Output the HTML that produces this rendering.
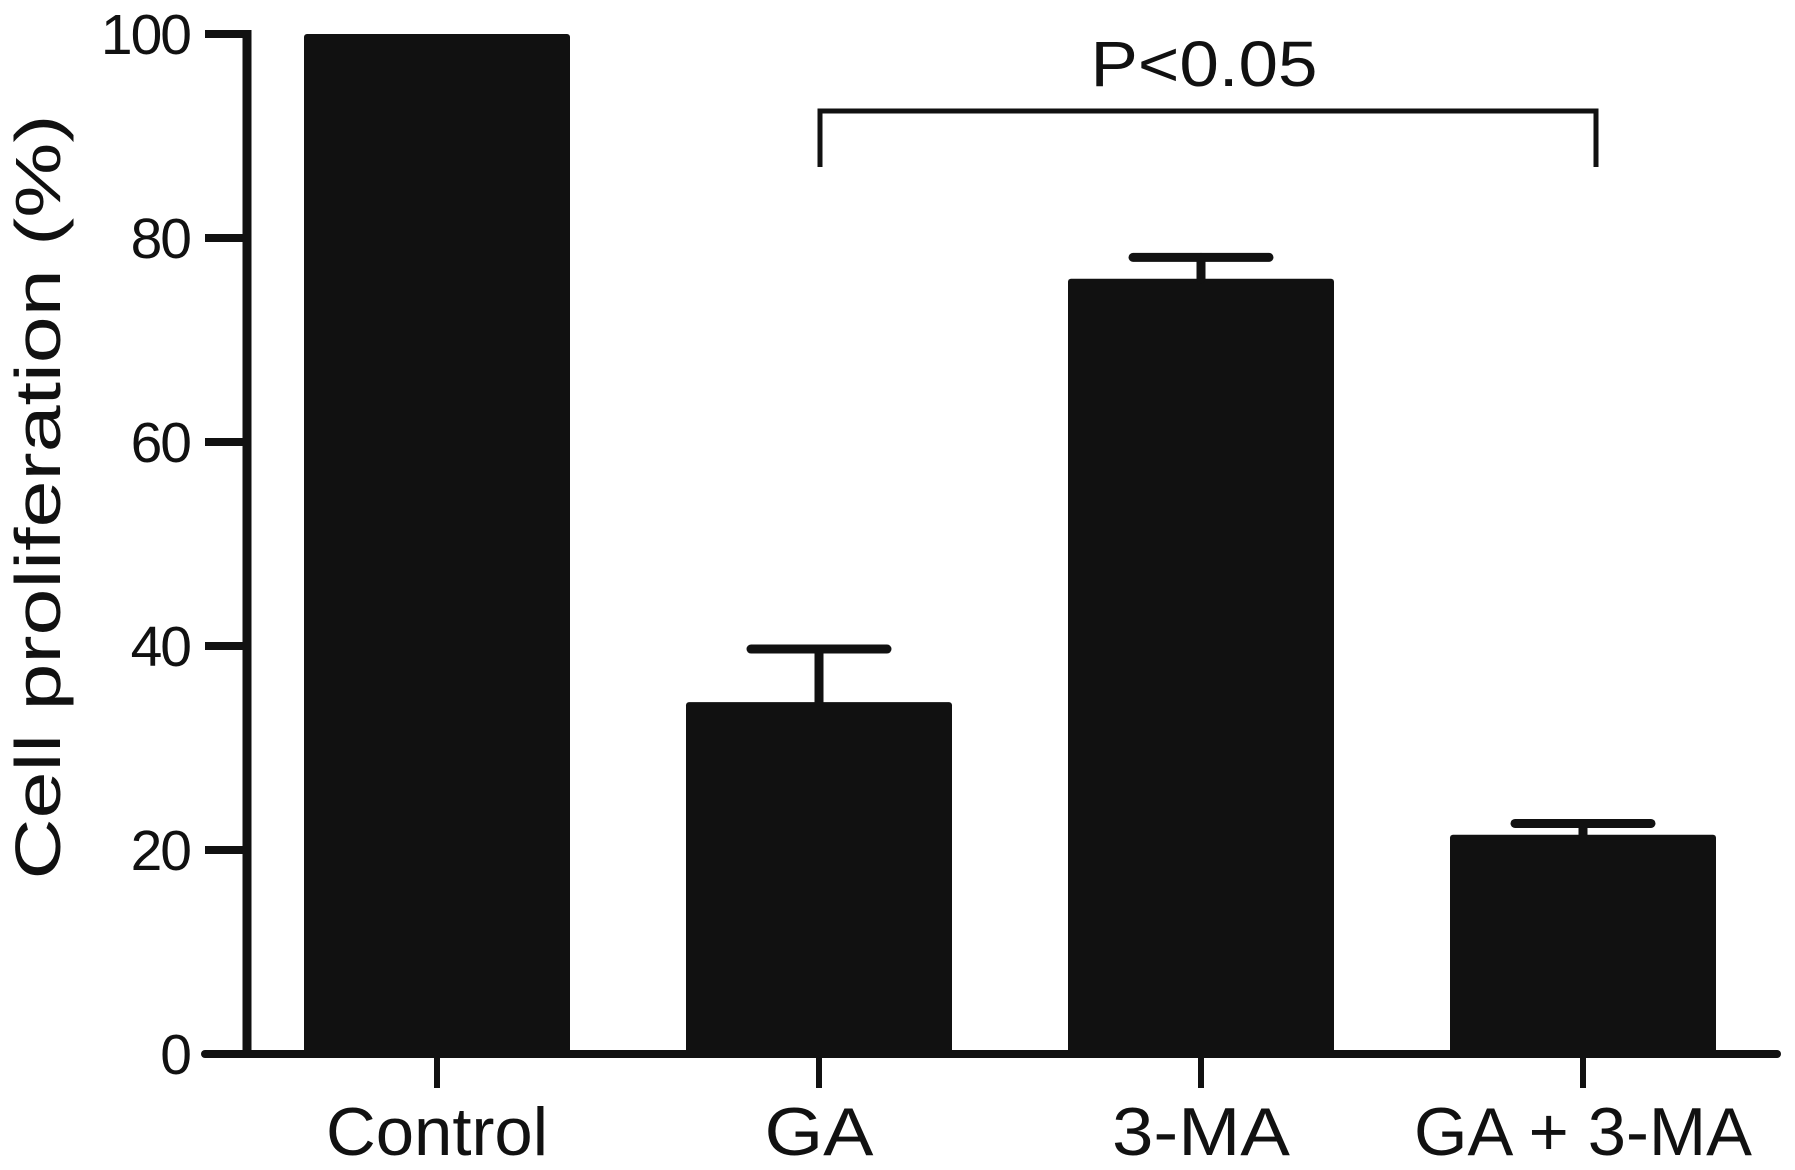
<!DOCTYPE html>
<html><head><meta charset="utf-8"><style>
html,body{margin:0;padding:0;background:#fff;}
svg{display:block;font-family:"Liberation Sans",Arial,sans-serif;}
</style></head><body>
<svg id="chart" width="1795" height="1170" viewBox="0 0 1795 1170"></svg>
<script>
const categories = ["Control", "GA", "3-MA", "GA + 3-MA"];
const values = [100, 34.5, 76, 21.5];
const errors = [0, 5.2, 2.1, 1.1];
const yTicks = [0, 20, 40, 60, 80, 100];
const labelWidths = [222, 109, 178, 338];

const svg = document.getElementById('chart');
const NS = 'http://www.w3.org/2000/svg';
const y0 = 1054, yTop = 34, yMax = 100;
function y(v){ return y0 - (v / yMax) * (y0 - yTop); }
const xStart = 437, xStep = 382, barW = 266;
function x(i){ return xStart + i * xStep; }
function mk(tag, attrs, parent){
  const el = document.createElementNS(NS, tag);
  for (const k in attrs) el.setAttribute(k, attrs[k]);
  (parent || svg).appendChild(el);
  return el;
}

categories.forEach((c, i) => {
  const b = mk('rect', {x: x(i) - barW/2, y: y(values[i]), width: barW, height: y0 - y(values[i]), fill: '#111', rx: 3});
  
  
  if (errors[i] > 0) {
    const g = mk('g', {stroke: '#111', 'stroke-width': 9, 'stroke-linecap': 'round'});
    
    
    mk('line', {x1: x(i), x2: x(i), y1: y(values[i]), y2: y(values[i] + errors[i])}, g);
    mk('line', {x1: x(i) - 68, x2: x(i) + 68, y1: y(values[i] + errors[i]), y2: y(values[i] + errors[i])}, g);
  }
  const t = mk('line', {x1: x(i), x2: x(i), y1: y0, y2: 1088, stroke: '#111', 'stroke-width': 6});
  
  
  const lb = mk('text', {x: x(i), y: 1155, 'font-size': 68, 'text-anchor': 'middle', fill: '#111', textLength: labelWidths[i], lengthAdjust: 'spacingAndGlyphs'});
  lb.textContent = c;
  
  
});

const ya = mk('line', {x1: 247, x2: 247, y1: y0 + 4, y2: yTop - 4, stroke: '#111', 'stroke-width': 9});


const xa = mk('line', {x1: 205, x2: 1777, y1: y0, y2: y0, stroke: '#111', 'stroke-width': 8, 'stroke-linecap': 'round'});



yTicks.forEach(v => {
  const tk = mk('line', {x1: 205, x2: 247, y1: y(v), y2: y(v), stroke: '#111', 'stroke-width': 8});
  
  
  const tl = mk('text', {x: 190, y: y(v) + 20, 'font-size': 57, 'text-anchor': 'end', fill: '#111', 'letter-spacing': '-2'});
  tl.textContent = v;
  
  
});

const yt = mk('text', {x: 0, y: 0, 'font-size': 64, 'text-anchor': 'middle', fill: '#111', textLength: 765, lengthAdjust: 'spacingAndGlyphs', transform: 'translate(60,497) rotate(-90)'});
yt.textContent = 'Cell proliferation (%)';



const br = mk('path', {d: 'M820,167 L820,111 L1596,111 L1596,167', fill: 'none', stroke: '#111', 'stroke-width': 5});


const pt = mk('text', {x: 1204, y: 86, 'font-size': 64, 'text-anchor': 'middle', fill: '#111', textLength: 227, lengthAdjust: 'spacingAndGlyphs'});
pt.textContent = 'P<0.05';


</script>
</body></html>
